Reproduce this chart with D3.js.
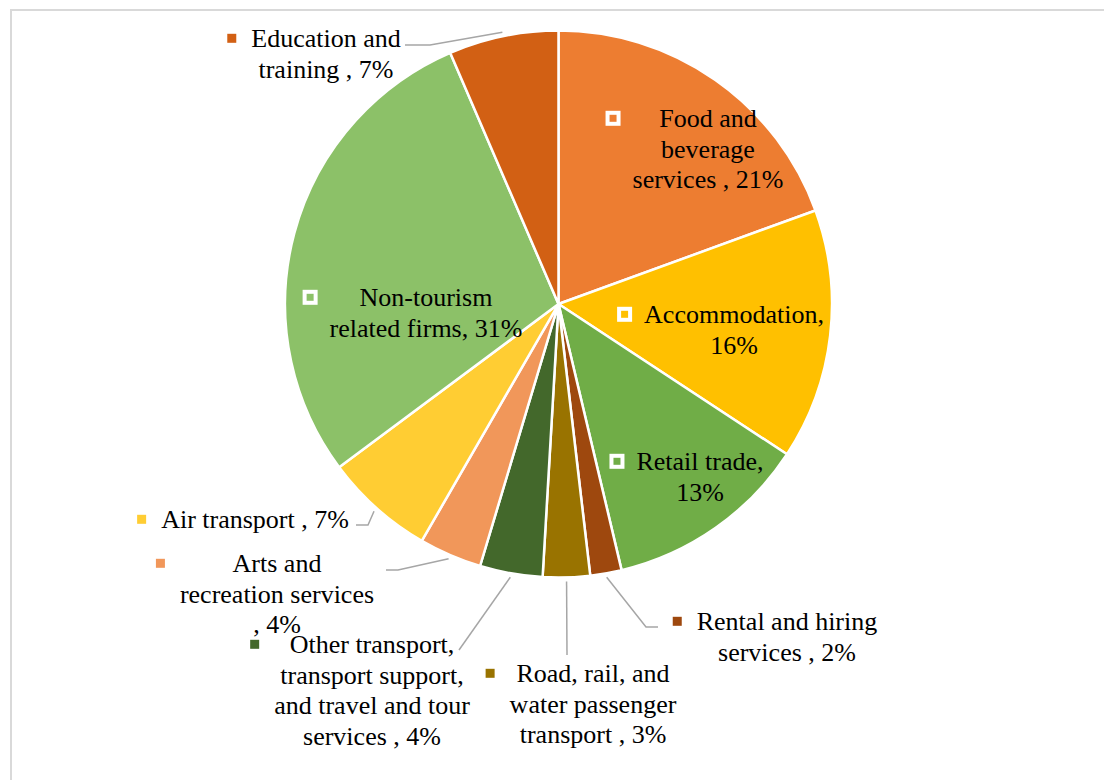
<!DOCTYPE html>
<html>
<head>
<meta charset="utf-8">
<script src="https://cdn.jsdelivr.net/npm/d3@7"></script>
<style>
  body { margin: 0; background: #fff; }
  svg { display: block; }
</style>
</head>
<body>
<div id="chart"></div>
<script>
// Data (clockwise from 12 o'clock)
const categories = [
  "Food and beverage services",
  "Accommodation",
  "Retail trade",
  "Rental and hiring services",
  "Road, rail, and water passenger transport",
  "Other transport, transport support, and travel and tour services",
  "Arts and recreation services",
  "Air transport",
  "Non-tourism related firms",
  "Education and training"
];
const values = [21, 16, 13, 2, 3, 4, 4, 7, 31, 7];
const labelLines = [
  ["Food and", "beverage", "services , 21%"],
  ["Accommodation,", "16%"],
  ["Retail trade,", "13%"],
  ["Rental and hiring", "services , 2%"],
  ["Road, rail, and", "water passenger", "transport , 3%"],
  ["Other transport,", "transport support,", "and travel and tour", "services , 4%"],
  ["Arts and", "recreation services", ", 4%"],
  ["Air transport , 7%"],
  ["Non-tourism", "related firms, 31%"],
  ["Education and", "training , 7%"]
];
const colors = ["#ED7D31", "#FFC000", "#70AD47", "#9E480E", "#997300",
                "#43682B", "#F1975A", "#FFCD33", "#8CC168", "#D26014"];

// Label layout: centre x, first baseline, inside flag, leader elbow/end
const labelLayout = [
  { x: 708, y: 127, inside: true },
  { x: 734, y: 323, inside: true },
  { x: 700, y: 470, inside: true },
  { x: 787, y: 630, inside: false, leader: [[646, 627], [658, 627]] },
  { x: 593, y: 682, inside: false, leader: [[567, 655]] },
  { x: 372, y: 653, inside: false, leader: [[459, 650]] },
  { x: 277, y: 572, inside: false, leader: [[398, 570], [386, 570]] },
  { x: 255, y: 528, inside: false, leader: [[368, 525], [356, 525]] },
  { x: 426, y: 306, inside: true },
  { x: 326, y: 47, inside: false, leader: [[430, 45], [405, 45]] }
];

const W = 1104, H = 780;
const cx = 558.5, cy = 304, R = 273.5;
const lineH = 30.5;
const font = "'Liberation Serif', 'Times New Roman', 'DejaVu Serif', serif";

const svg = d3.select("#chart").append("svg")
  .attr("width", W).attr("height", H);

// chart border
svg.append("rect")
  .attr("x", 11).attr("y", 10)
  .attr("width", W + 50).attr("height", H + 50)
  .attr("fill", "none")
  .attr("stroke", "#D9D9D9")
  .attr("stroke-width", 2);

const data = categories.map((c, i) => ({ name: c, value: values[i], i }));

const pie = d3.pie().value(d => d.value).sort(null);
const arcs = pie(data);
const arc = d3.arc().innerRadius(0).outerRadius(R);

const g = svg.append("g").attr("transform", `translate(${cx},${cy})`);

g.selectAll("path")
  .data(arcs)
  .enter().append("path")
  .attr("d", arc)
  .attr("fill", d => colors[d.data.i])
  .attr("stroke", "#fff")
  .attr("stroke-width", 2.5)
  .attr("stroke-linejoin", "round");

// Leader lines
arcs.forEach(a => {
  const lay = labelLayout[a.data.i];
  if (!lay.leader) return;
  const mid = (a.startAngle + a.endAngle) / 2;
  const r0 = R + 4;
  const pts = [[cx + r0 * Math.sin(mid), cy - r0 * Math.cos(mid)]].concat(lay.leader);
  svg.append("path")
    .attr("d", d3.line()(pts))
    .attr("fill", "none")
    .attr("stroke", "#A6A6A6")
    .attr("stroke-width", 1.5);
});

// Labels
arcs.forEach(a => {
  const i = a.data.i;
  const lay = labelLayout[i];
  const t = svg.append("text")
    .attr("text-anchor", "middle")
    .attr("font-family", font)
    .attr("font-size", 26)
    .attr("fill", "#000");
  labelLines[i].forEach((ln, k) => {
    t.append("tspan").attr("x", lay.x).attr("y", lay.y + k * lineH).text(ln);
  });
  let maxW = 0;
  t.selectAll("tspan").each(function () {
    maxW = Math.max(maxW, this.getComputedTextLength());
  });
  const left = lay.x - maxW / 2;
  const my = lay.y - 8.7;
  if (lay.inside) {
    const s = 11;
    svg.append("rect")
      .attr("x", left - 12 - 2 - s).attr("y", my - s / 2)
      .attr("width", s).attr("height", s)
      .attr("fill", colors[i])
      .attr("stroke", "#fff")
      .attr("stroke-width", 4);
  } else {
    const s = 9;
    svg.append("rect")
      .attr("x", left - 15 - s).attr("y", my - s / 2)
      .attr("width", s).attr("height", s)
      .attr("fill", colors[i]);
  }
});
</script>
</body>
</html>
